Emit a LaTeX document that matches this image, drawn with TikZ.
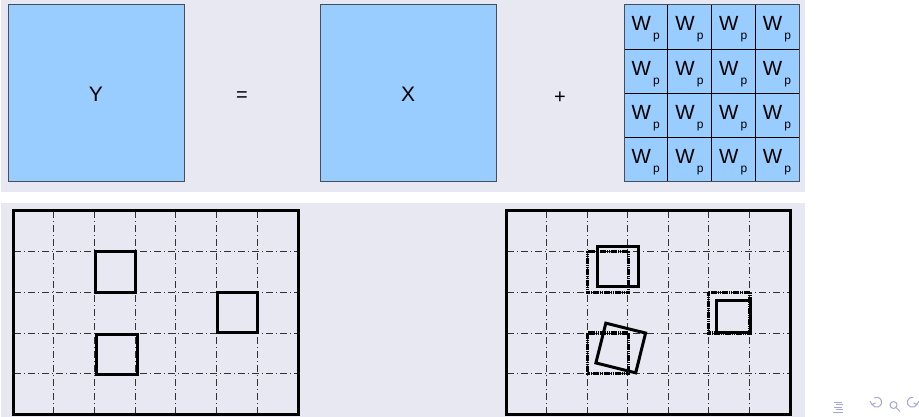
\documentclass[tikz,border=0pt]{standalone}
\usepackage{fontspec}
\setmainfont{Liberation Sans}
\definecolor{panelbg}{RGB}{232,232,242}
\definecolor{boxfill}{RGB}{153,204,255}
\definecolor{boxline}{RGB}{70,78,88}
\definecolor{navcol}{RGB}{165,165,215}
\definecolor{gridcol}{RGB}{50,50,50}
\tikzset{
  bigbox/.style={fill=boxfill,draw=boxline,line width=1pt},
  bigtext/.style={inner sep=0pt,font=\fontsize{21}{21}\selectfont},
  optext/.style={inner sep=0pt,font=\fontsize{20}{20}\selectfont},
  wtext/.style={inner sep=0pt,anchor=base west,font=\fontsize{20.5}{20.5}\selectfont},
  ptext/.style={inner sep=0pt,anchor=base west,font=\fontsize{12}{12}\selectfont},
  frame/.style={draw=black,line width=3pt},
  hgrid/.style={draw=gridcol,line width=0.8pt,dash pattern=on 7pt off 3pt on 1pt off 3pt},
  vgrid/.style={draw=gridcol,line width=0.8pt,dash pattern=on 7pt off 3pt on 1pt off 3pt},
  solidsq/.style={draw=black,line width=3pt},
  dotsq/.style={draw=black,line width=3.2pt,dash pattern=on 1.6pt off 0.6pt},
  nav/.style={draw=navcol,line width=1pt}
}
\begin{document}
\begin{tikzpicture}[x=1pt,y=-1pt]
\useasboundingbox (0,0) rectangle (919,417);
% panels
\fill[panelbg] (1,0) rectangle (805,192);
\fill[panelbg] (1,203) rectangle (805,417);
% top row
\draw[bigbox] (8,5) rectangle (184,182);
\node[bigtext] (Y) at (96,94) {Y};
\node[optext] (eq) at (242,97) {=};
\draw[bigbox] (320,5) rectangle (496,182);
\node[bigtext] (X) at (408,94) {X};
\node[optext] (plus) at (560,98) {+};
% Wp grid
\fill[boxfill] (624,5) rectangle (799,182);
\foreach \i in {1,2,3} {
  \draw[black,line width=0.9pt] (624+\i*43.75,5) -- (624+\i*43.75,182);
  \draw[black,line width=0.9pt] (624,5+\i*44.25) -- (799,5+\i*44.25);
}
\draw[boxline,line width=1pt] (624,5) rectangle (799,182);
\foreach \i in {0,...,3} {
  \foreach \j in {0,...,3} {
    \node[wtext] (w\i\j) at (624+\i*43.75+7.5,5+\j*44.25+26) {W};
    \node[ptext] (p\i\j) at (624+\i*43.75+29,5+\j*44.25+35) {p};
  }
}
% bottom left panel
\foreach \k in {1,...,6} {
  \draw[vgrid] (13+\k*40.7,211) -- (13+\k*40.7,413);
}
\foreach \k in {1,...,4} {
  \draw[hgrid] (14,210.5+\k*40.8) -- (297,210.5+\k*40.8);
}
\draw[frame] (13,210.5) rectangle (298,414.5);
\draw[solidsq] (95,251.3) rectangle (135.5,292.1);
\draw[solidsq] (217,292.1) rectangle (257.5,332.9);
\draw[solidsq] (96.5,334) rectangle (137,374.5);
% bottom right panel
\foreach \k in {1,...,6} {
  \draw[vgrid] (506+\k*40.57,211) -- (506+\k*40.57,413);
}
\foreach \k in {1,...,4} {
  \draw[hgrid] (507,210.5+\k*40.8) -- (789,210.5+\k*40.8);
}
\draw[frame] (506,210.5) rectangle (790,414.5);
\draw[dotsq] (587.5,251.3) rectangle (628.5,292.1);
\draw[solidsq] (597.5,246) rectangle (638.5,286);
\draw[dotsq] (708.5,292.1) rectangle (750,332.9);
\draw[solidsq] (716.5,300.5) rectangle (750,332.9);
\draw[dotsq] (587.5,332.9) rectangle (628.5,373.7);
\draw[solidsq,rotate around={-14:(620.75,348)}] (600.25,327.5) rectangle (641.25,368.5);
% navigation symbols
\draw[nav] (834,402) -- (842,402);
\draw[nav] (836,404.5) -- (843,404.5);
\draw[nav] (834,407) -- (842,407);
\draw[nav] (836,409.5) -- (843,409.5);
\draw[nav] (833,412) -- (843,412);
\draw[nav] (872,404) arc[start angle=160,end angle=-120,radius=5];
\draw[nav] (870,401) -- (872,404.5) -- (875.5,403);
\draw[nav] (893.5,405) circle[radius=3.5];
\draw[nav] (896,407.5) -- (900,411.5);
\draw[nav] (917,404) arc[start angle=20,end angle=280,radius=5];
\draw[nav] (919,401) -- (917,404.5) -- (913.5,403);
\end{tikzpicture}
\end{document}
